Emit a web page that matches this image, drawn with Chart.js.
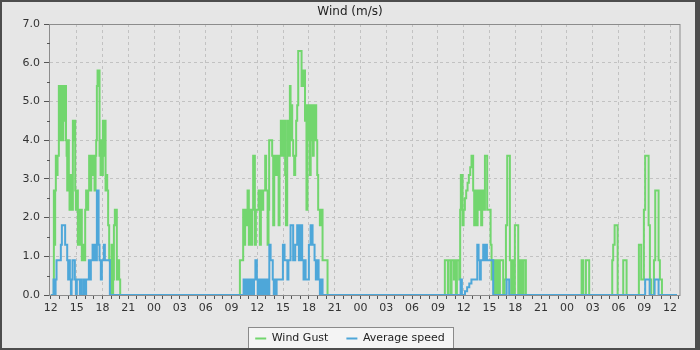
<!DOCTYPE html>
<html>
<head>
<meta charset="utf-8">
<script src="https://cdn.jsdelivr.net/npm/chart.js@4.4.1/dist/chart.umd.min.js"></script>
<style>
html, body { margin: 0; padding: 0; background: #4d4d4d; }
#wrap { width: 700px; height: 350px; }
</style>
</head>
<body>
<div id="wrap"><canvas id="windChart" width="700" height="350"></canvas></div>
<script>
// time = hours since 12:00 on the first day, value = m/s (stepped series)
var gustDay1 = [[0,0],[0.35,2.7],[0.43,1.3],[0.5,2.7],[0.58,3.6],[0.70,3.1],[0.78,3.6],[0.93,5.4],[1.00,4.0],[1.06,5.4],[1.13,4.5],[1.19,5.4],[1.26,4.0],[1.32,5.4],[1.38,4.0],[1.45,4.5],[1.55,5.4],[1.62,4.5],[1.69,5.4],[1.76,4.0],[1.83,3.6],[1.90,2.7],[1.98,4.0],[2.09,2.7],[2.17,2.2],[2.24,3.1],[2.33,2.7],[2.44,2.2],[2.56,4.5],[2.66,4.0],[2.76,4.5],[2.83,2.7],[2.91,2.2],[3.02,2.7],[3.14,1.3],[3.26,2.2],[3.37,1.3],[3.49,2.2],[3.60,0.9],[3.76,1.3],[3.87,0.9],[3.99,2.2],[4.10,2.7],[4.22,2.2],[4.34,2.7],[4.45,3.6],[4.57,2.7],[4.69,3.6],[4.80,3.1],[4.97,3.6],[5.08,2.7],[5.20,3.6],[5.27,4.0],[5.35,5.4],[5.43,5.8],[5.66,3.6],[5.78,3.1],[5.85,4.0],[5.93,3.1],[6.05,4.5],[6.16,3.6],[6.24,4.5],[6.36,2.7],[6.48,3.1],[6.55,2.7],[6.66,1.8],[6.78,0.9],[6.90,0.4],[6.98,0],[7.06,1.3],[7.17,0],[7.24,0.4],[7.33,1.8],[7.44,2.2],[7.67,0.4],[7.83,0.9],[7.94,0.4],[8.06,0]];
var gustDay2 = [[21.98,0.9],[22.36,2.2],[22.48,1.3],[22.59,2.2],[22.76,1.8],[22.87,2.7],[23.02,1.3],[23.14,2.2],[23.29,1.3],[23.41,2.2],[23.52,3.6],[23.72,1.3],[23.84,2.2],[24.15,2.7],[24.30,1.3],[24.42,2.7],[24.53,2.2],[24.69,2.7],[24.92,3.6],[25.03,2.7],[25.20,1.3],[25.31,2.2],[25.38,4.0],[25.73,3.6],[25.85,1.8],[25.97,3.6],[26.16,3.1],[26.28,3.6],[26.48,1.8],[26.59,3.6],[26.74,4.5],[26.86,3.6],[26.98,4.5],[27.09,3.6],[27.17,4.5],[27.24,3.1],[27.33,1.8],[27.48,4.5],[27.56,3.6],[27.64,4.5],[27.72,3.6],[27.79,5.4],[27.87,4.0],[27.94,4.9],[28.06,4.0],[28.17,3.6],[28.29,3.1],[28.41,3.6],[28.52,4.5],[28.64,4.9],[28.76,6.3],[29.15,5.4],[29.33,5.8],[29.55,4.5],[29.64,4.9],[29.72,2.2],[29.84,4.9],[29.93,4.0],[30.03,4.9],[30.12,3.1],[30.21,4.9],[30.30,4.0],[30.38,4.9],[30.47,3.6],[30.56,4.9],[30.66,4.0],[30.75,4.9],[30.85,4.0],[30.97,3.1],[31.08,2.2],[31.28,1.8],[31.40,2.2],[31.59,0.9],[32.17,0]];
var gustDay3 = [[45.81,0.9],[46.16,0],[46.24,0.9],[46.51,0],[46.59,0.9],[46.86,0.4],[46.94,0.9],[47.09,0],[47.21,0.9],[47.48,0.4],[47.59,2.2],[47.67,3.1],[47.87,1.8],[47.99,2.2],[48.14,2.5],[48.29,2.7],[48.45,2.9],[48.60,3.1],[48.76,3.3],[48.91,3.6],[49.10,2.7],[49.22,1.8],[49.34,2.7],[49.50,1.8],[49.62,2.7],[49.77,2.2],[49.88,2.7],[50.03,1.8],[50.15,2.7],[50.35,2.2],[50.47,3.6],[50.73,2.2],[51.13,1.3],[51.24,0.4],[51.31,0.9],[51.51,0],[51.63,0.9],[51.78,0],[51.90,0.9],[52.09,0],[52.21,0.9],[52.59,0],[52.76,0.4],[52.91,1.8],[53.06,3.6],[53.37,0.9],[53.52,0],[53.64,0.9],[53.76,0],[53.95,1.8],[54.34,0],[54.42,0.9],[54.57,0],[54.69,0.9],[54.88,0],[54.97,0.9],[55.23,0]];
var gustDay4 = [[61.71,0.9],[61.90,0],[62.21,0.9],[62.59,0],[65.27,0.9],[65.38,1.3],[65.55,1.8],[65.90,0],[66.55,0.9],[66.94,0],[68.37,1.3],[68.64,0.4],[68.95,2.2],[69.10,3.6],[69.50,1.8],[69.65,0.4],[69.80,0],[70.12,0.9],[70.27,2.7],[70.66,0.9],[70.81,0.4],[71.05,0],[72.8,0]];

var avgDay1 = [[0,0],[0.31,0.4],[0.47,0],[0.55,0.4],[0.66,0.9],[1.16,1.3],[1.28,1.8],[1.66,1.3],[1.90,0.9],[2.01,0.4],[2.13,0.9],[2.21,0.4],[2.33,0],[2.41,0.4],[2.52,0.9],[2.79,0.4],[2.91,0],[3.02,0.4],[3.37,0],[3.49,0.4],[3.60,0],[3.84,0.4],[3.95,0],[4.10,0.4],[4.42,0.9],[4.57,0.4],[4.65,0.9],[4.85,1.3],[4.97,0.9],[5.12,1.3],[5.27,0.9],[5.35,2.7],[5.55,1.3],[5.66,0.9],[5.81,0.4],[5.93,0.9],[6.16,1.3],[6.28,0.9],[6.86,0]];
var avgDay2 = [[22.41,0.4],[22.52,0],[22.60,0.4],[22.72,0],[22.80,0.4],[22.92,0],[23.00,0.4],[23.12,0],[23.20,0.4],[23.32,0],[23.40,0.4],[23.52,0],[23.62,0.4],[23.78,0.9],[23.95,0.4],[24.05,0],[24.13,0.4],[24.25,0],[24.33,0.4],[24.45,0],[24.53,0.4],[24.65,0],[24.73,0.4],[24.85,0],[24.93,0.4],[25.05,0],[25.13,0.4],[25.30,0],[25.40,1.3],[25.55,0.9],[25.80,0.4],[25.92,0],[26.02,0.4],[26.15,0],[26.25,0.4],[26.98,1.3],[27.17,0.9],[27.50,0.4],[27.62,0.9],[27.87,1.8],[28.17,0.9],[28.41,1.3],[28.64,1.8],[28.84,0.9],[28.99,1.8],[29.22,0.9],[29.38,0.4],[29.53,0.9],[29.62,0.4],[30.00,1.3],[30.20,1.8],[30.43,1.3],[30.66,0.9],[30.81,0.4],[30.97,0.9],[31.13,0.4],[31.28,0],[31.43,0.4],[31.59,0]];
var avgDay3 = [[47.64,0.4],[47.79,0],[48.15,0.1],[48.40,0.2],[48.65,0.3],[48.90,0.4],[49.58,1.3],[49.73,0.9],[49.88,0.4],[49.99,0.9],[50.27,1.3],[50.47,0.9],[50.58,1.3],[50.70,0.9],[51.43,0],[52.99,0.4],[53.29,0]];
var avgDay4 = [[69.10,0.4],[69.62,0],[70.20,0.4],[70.66,0],[72.8,0]];

var hourLabels = ['12','15','18','21','00','03','06','09','12','15','18','21','00','03','06','09','12','15','18','21','00','03','06','09','12'];
var yLabels = ['0.0','1.0','2.0','3.0','4.0','5.0','6.0','7.0'];

var GREEN = '#72d66e';
var BLUE = '#4ea7d9';
var BG = '#e6e6e6';
var GRID = '#c2c2c2';

function toPoints(parts) {
    var out = [];
    parts.forEach(function (p) {
        p.forEach(function (d) { out.push({ x: d[0], y: d[1] }); });
    });
    return out;
}

Chart.defaults.font.family = "'DejaVu Sans', sans-serif";

// background, plot frame, legend box and outer border
var framePlugin = {
    id: 'frame',
    beforeInit: function (chart) {
        var lg = chart.legend;
        var fit = lg.fit;
        lg.fit = function () { fit.call(this); this.height = 35; };
    },
    beforeDraw: function (chart) {
        var ctx = chart.ctx;
        ctx.save();
        ctx.fillStyle = BG;
        ctx.fillRect(0, 0, chart.width, chart.height);
        var hb = chart.legend.legendHitBoxes;
        if (hb && hb.length) {
            var first = hb[0], last = hb[hb.length - 1];
            var x0 = Math.round(first.left) - 6.5;
            var x1 = Math.round(last.left + last.width) + 8.5;
            var y0 = Math.round(first.top) - 5.5;
            ctx.fillStyle = '#f4f4f4';
            ctx.fillRect(x0, y0, x1 - x0, 30);
            ctx.strokeStyle = '#8a8a8a';
            ctx.lineWidth = 1;
            ctx.strokeRect(x0, y0, x1 - x0, 30);
        }
        ctx.restore();
    },
    beforeDatasetsDraw: function (chart) {
        var ctx = chart.ctx, a = chart.chartArea, y = chart.scales.y;
        ctx.save();
        ctx.strokeStyle = '#8c8c8c';
        ctx.lineWidth = 1;
        ctx.strokeRect(Math.round(a.left) - 0.5, Math.round(a.top) + 0.5, Math.round(a.right - a.left) + 0.5, Math.round(a.bottom - a.top));
        // minor ticks on the value axis
        ctx.strokeStyle = '#555';
        ctx.beginPath();
        for (var v = 0.5; v < 7; v += 1) {
            var py = Math.round(y.getPixelForValue(v)) + 0.5;
            ctx.moveTo(a.left - 3, py);
            ctx.lineTo(a.left, py);
        }
        ctx.stroke();
        ctx.restore();
    },
    afterDraw: function (chart) {
        var ctx = chart.ctx;
        ctx.save();
        ctx.fillStyle = '#4d4d4d';
        ctx.fillRect(0, 0, 700, 2);
        ctx.fillRect(0, 0, 2, 350);
        ctx.fillRect(695, 0, 5, 350);
        ctx.fillRect(0, 348, 700, 2);
        ctx.restore();
    }
};

new Chart(document.getElementById('windChart'), {
    type: 'line',
    data: {
        datasets: [{
            label: 'Wind Gust',
            data: toPoints([gustDay1, gustDay2, gustDay3, gustDay4]),
            borderColor: GREEN,
            backgroundColor: GREEN,
            borderWidth: 2,
            stepped: true,
            pointRadius: 0,
            fill: false,
            order: 2
        }, {
            label: 'Average speed',
            data: toPoints([avgDay1, avgDay2, avgDay3, avgDay4]),
            borderColor: BLUE,
            backgroundColor: BLUE,
            borderWidth: 2,
            stepped: true,
            pointRadius: 0,
            fill: false,
            order: 1
        }]
    },
    options: {
        responsive: false,
        animation: false,
        layout: { padding: 0 },
        scales: {
            x: {
                type: 'linear',
                bounds: 'data',
                min: -0.1,
                max: 73.15,
                afterBuildTicks: function (s) {
                    var t = [];
                    for (var h = 0; h <= 73; h++) t.push({ value: h });
                    s.ticks = t;
                },
                afterFit: function (s) { s.height = 20; },
                ticks: {
                    autoSkip: false,
                    maxRotation: 0,
                    padding: 3,
                    color: '#333',
                    font: { size: 11 },
                    callback: function (v) { return v % 3 === 0 ? hourLabels[v / 3] : ''; }
                },
                grid: {
                    color: function (c) { return c.tick && c.tick.value % 3 === 0 && c.tick.value > 0 ? GRID : 'rgba(0,0,0,0)'; },
                    tickColor: '#555',
                    tickLength: 4,
                    lineWidth: 1
                },
                border: { display: false, dash: [3, 3] }
            },
            y: {
                min: 0,
                max: 7,
                afterFit: function (s) { s.width = 50; },
                ticks: {
                    stepSize: 1,
                    padding: 4,
                    color: '#333',
                    font: { size: 11 },
                    callback: function (v, i) { return yLabels[i]; }
                },
                grid: {
                    color: function (c) { return c.tick && c.tick.value > 0 && c.tick.value < 7 ? GRID : 'rgba(0,0,0,0)'; },
                    tickColor: '#555',
                    tickLength: 6,
                    lineWidth: 1
                },
                border: { display: false, dash: [3, 3] }
            },
            yRight: {
                position: 'right',
                afterFit: function (s) { s.width = 20; },
                ticks: { display: false },
                grid: { display: false, drawTicks: false },
                border: { display: false }
            }
        },
        plugins: {
            title: {
                display: true,
                text: 'Wind (m/s)',
                color: '#222',
                font: { size: 12, weight: 'normal' },
                padding: { top: 5, bottom: 4.6 }
            },
            legend: {
                position: 'bottom',
                labels: {
                    usePointStyle: true,
                    pointStyleWidth: 11,
                    pointStyle: 'line',
                    boxHeight: 11,
                    padding: 18,
                    color: '#222',
                    font: { size: 11 },
                    sort: function (a, b) { return a.datasetIndex - b.datasetIndex; }
                }
            },
            tooltip: { enabled: false }
        }
    },
    plugins: [framePlugin]
});
</script>
</body>
</html>
